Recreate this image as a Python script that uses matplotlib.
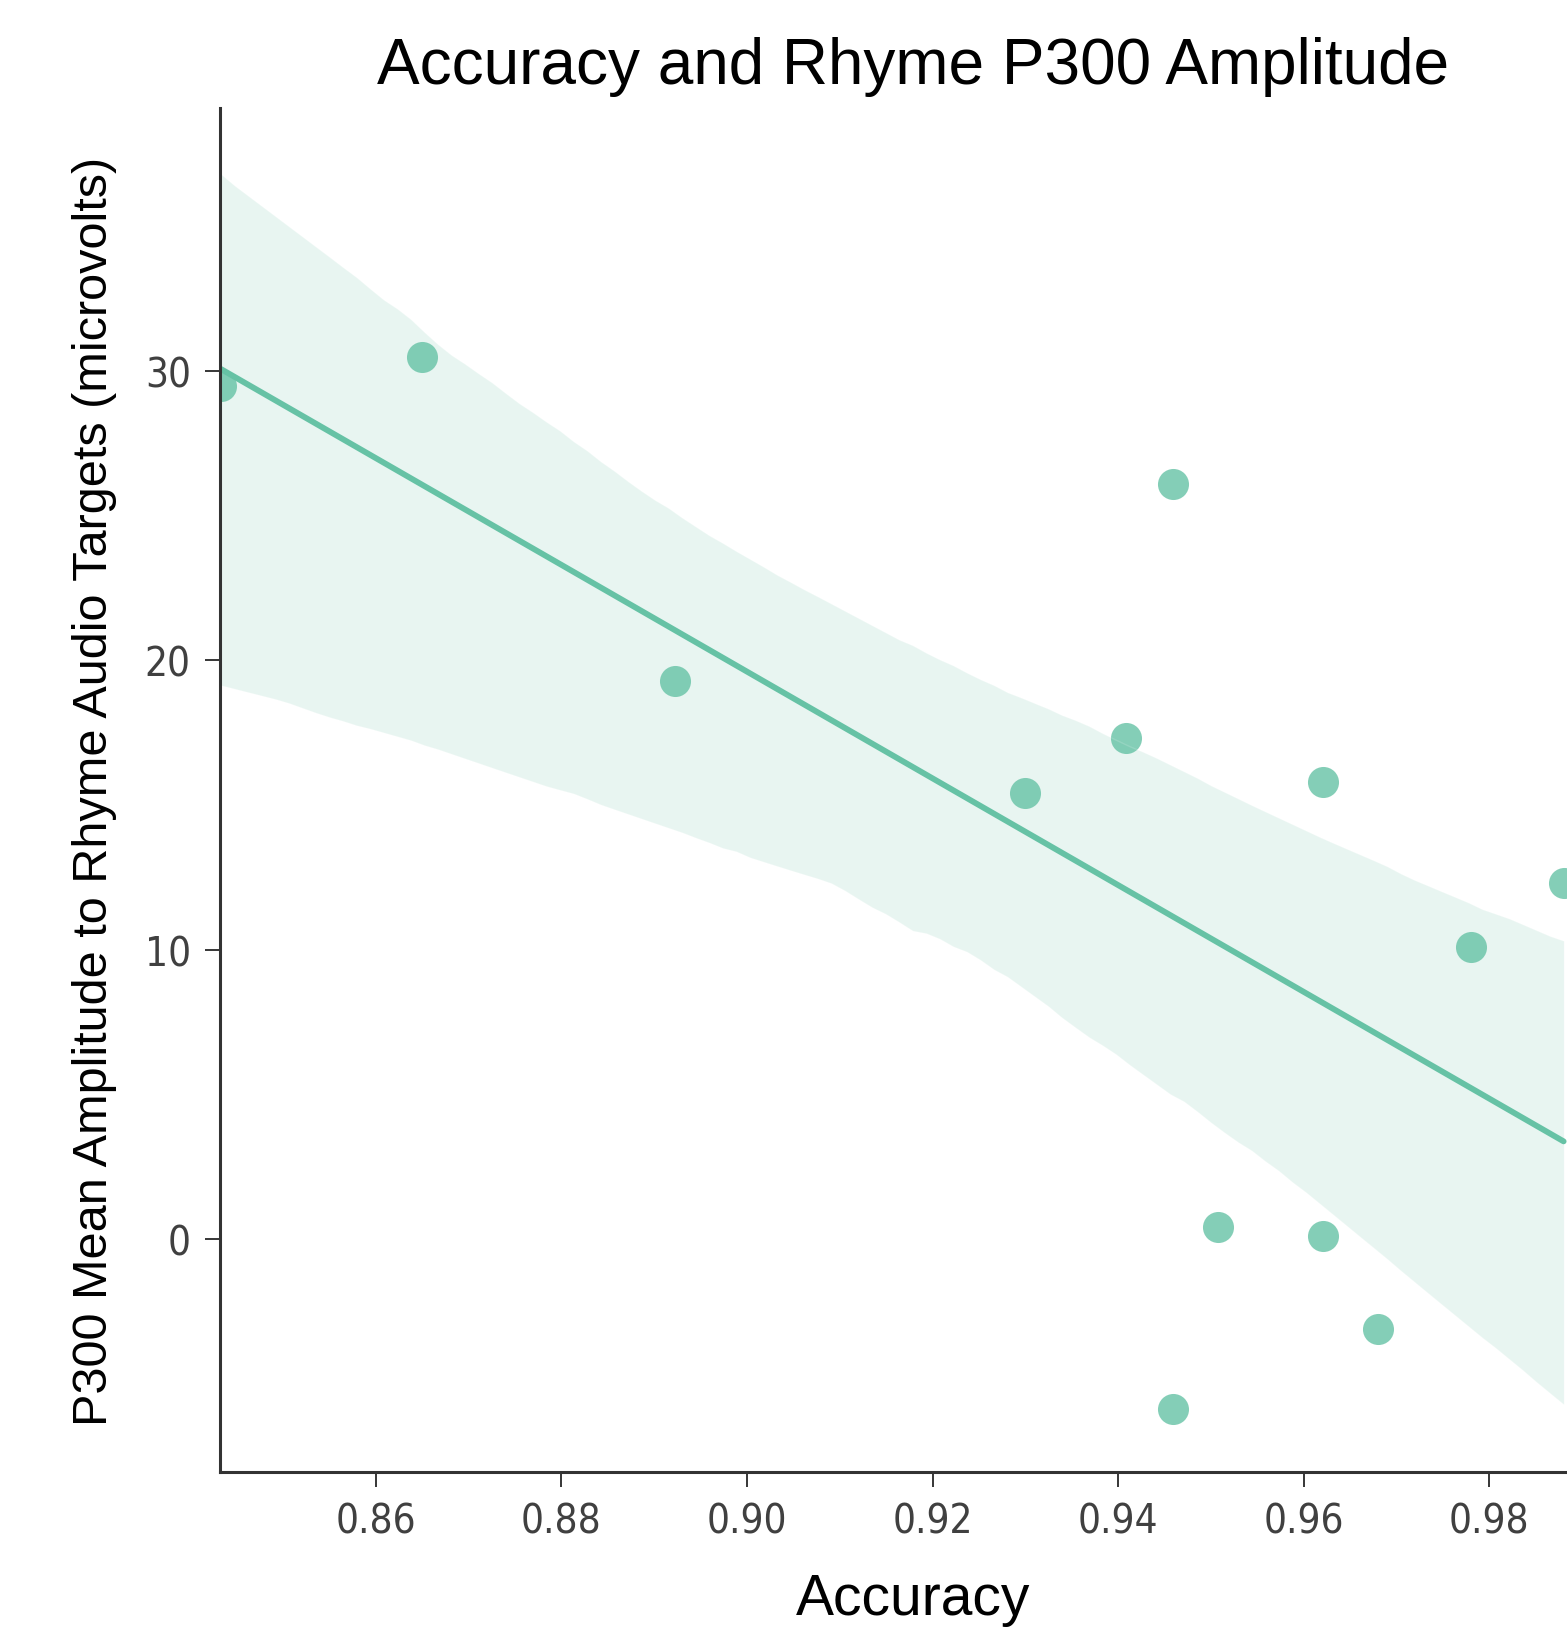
import numpy as np
import pandas as pd
import matplotlib
matplotlib.use('Agg')
import matplotlib.pyplot as plt
import seaborn as sns

# accuracy vs P300 amplitude
accuracy = [0.8433, 0.8650, 0.8922, 0.9300, 0.9408, 0.9459, 0.9621,
            0.9880, 0.9780, 0.9508, 0.9621, 0.9680, 0.9459]
p300 = [29.5, 30.5, 19.3, 15.4, 17.3, 26.1, 15.8,
        12.3, 10.1, 0.4, 0.1, -3.1, -5.9]
xticks = [0.86, 0.88, 0.90, 0.92, 0.94, 0.96, 0.98]
yticks = [0, 10, 20, 30]

df = pd.DataFrame({'Accuracy': accuracy, 'P300': p300})

sns.set_style('ticks')
plt.rcParams['font.family'] = ['Liberation Sans', 'DejaVu Sans']

fig = plt.figure(figsize=(15.67, 16.33), dpi=100)
ax = fig.add_axes([0.1404, 0.098, 1.0245 - 0.1404, 0.9333 - 0.098])

sns.regplot(x='Accuracy', y='P300', data=df, ax=ax, color='#66c2a5', seed=11,
            n_boot=2000,
            scatter_kws={'s': 500, 'alpha': 0.8, 'linewidths': 0},
            line_kws={'linewidth': 4.2})

ax.set_xlim(0.8432, 0.9925)
ax.set_ylim(-8.06, 39.1)
ax.set_xticks(xticks)
ax.set_xticklabels([f'{t:.2f}' for t in xticks])
ax.set_yticks(yticks)
ax.set_yticklabels([str(t) for t in yticks])

for lab in ax.get_xticklabels() + ax.get_yticklabels():
    lab.set_family('DejaVu Sans')
    lab.set_stretch('condensed')
ax.tick_params(labelsize=29, length=11, width=1.3, colors='0.15', pad=10)
ax.tick_params(axis='both', labelcolor='0.25')

sns.despine(ax=ax)
for s in ['left', 'bottom']:
    ax.spines[s].set_linewidth(2.2)
    ax.spines[s].set_color('0.2')

ax.set_title('Accuracy and Rhyme P300 Amplitude', fontsize=46, pad=18, color='black')
ax.set_xlabel('Accuracy', fontsize=41, labelpad=22, color='black')
ax.set_ylabel('P300 Mean Amplitude to Rhyme Audio Targets (microvolts)', fontsize=35,
              labelpad=20, color='black')

fig.savefig('out.png', dpi=100)
